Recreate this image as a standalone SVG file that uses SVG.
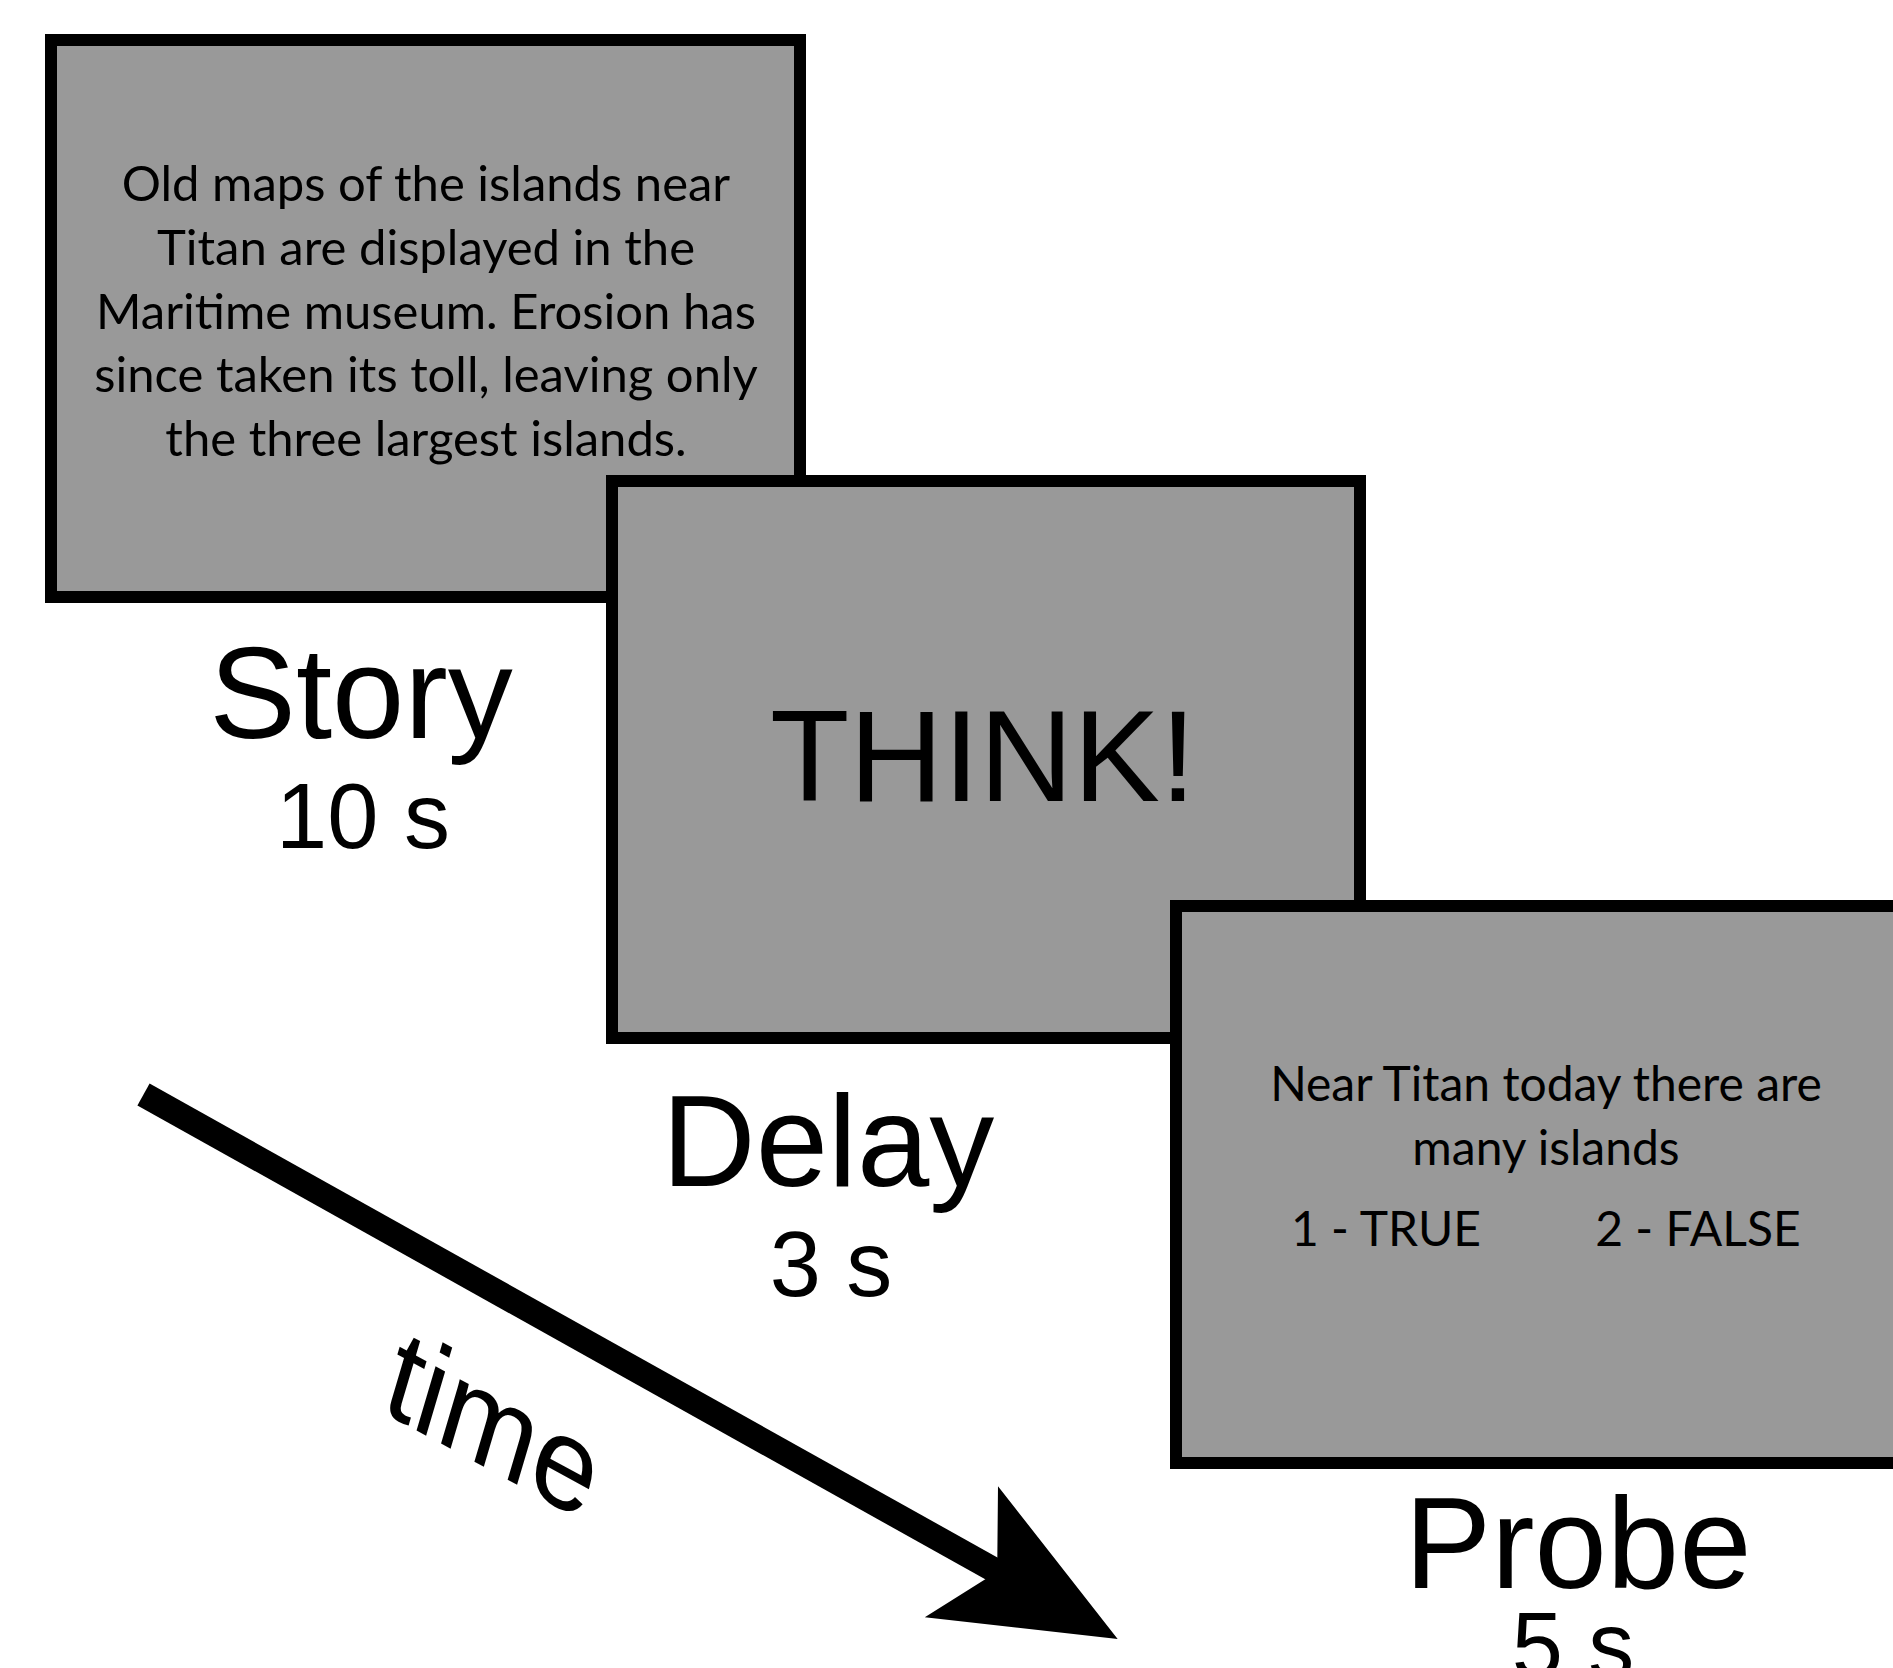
<svg xmlns="http://www.w3.org/2000/svg" width="1893" height="1668" viewBox="0 0 1893 1668">
  <style>
    .screen { fill: #999999; stroke: #000000; stroke-width: 12; }
    .body { font-family: "Lato", "Liberation Sans", sans-serif; font-size: 48px; fill: #000000; text-anchor: middle; }
    .story-body { font-size: 49px; }
    .title { font-family: "Liberation Sans", Arial, sans-serif; font-size: 130px; fill: #000000; text-anchor: middle; }
    .dur { font-family: "Liberation Sans", Arial, sans-serif; font-size: 92px; fill: #000000; text-anchor: middle; }
    .axis { stroke: #000000; stroke-width: 25; fill: none; }
  </style>
  <defs>
    <marker id="head" markerUnits="userSpaceOnUse" markerWidth="300" markerHeight="300" refX="0" refY="0" orient="auto" overflow="visible">
      <path d="M-63,-75 L116,0 L-63,75 L-22,0 Z" fill="#000000"/>
    </marker>
  </defs>

  <rect width="1893" height="1668" fill="#ffffff"/>

  <!-- Story screen -->
  <g id="story">
    <rect class="screen" x="51" y="40" width="749" height="557"/>
    <text class="body story-body" x="426" y="201">Old maps of the islands near</text>
    <text class="body story-body" x="426" y="265">Titan are displayed in the</text>
    <text class="body story-body" x="426" y="329">Maritime museum. Erosion has</text>
    <text class="body story-body" x="426" y="392">since taken its toll, leaving only</text>
    <text class="body story-body" x="426" y="456">the three largest islands.</text>
    <text class="title" x="361" y="738">Story</text>
    <text class="dur" x="363" y="848">10 s</text>
  </g>

  <!-- Delay screen -->
  <g id="delay">
    <rect class="screen" x="612" y="481" width="748" height="557"/>
    <text class="title" x="983" y="801">THINK!</text>
    <text class="title" x="828" y="1186">Delay</text>
    <text class="dur" x="831" y="1296">3 s</text>
  </g>

  <!-- Probe screen -->
  <g id="probe">
    <rect class="screen" x="1176" y="906" width="760" height="557"/>
    <text class="body" x="1546" y="1101">Near Titan today there are</text>
    <text class="body" x="1546" y="1165">many islands</text>
    <text class="body" x="1386" y="1246">1 - TRUE</text>
    <text class="body" x="1698" y="1246">2 - FALSE</text>
    <text class="title" x="1578" y="1588">Probe</text>
    <text class="dur" x="1573" y="1677">5 s</text>
  </g>

  <!-- Time axis -->
  <g id="connectors">
    <line class="axis" x1="143.5" y1="1094.5" x2="1016.4" y2="1582.4" marker-end="url(#head)"/>
    <text transform="translate(379,1410) rotate(28.5) skewX(12)" font-family="Liberation Sans, Arial, sans-serif" font-size="124" fill="#000000">time</text>
  </g>
</svg>
